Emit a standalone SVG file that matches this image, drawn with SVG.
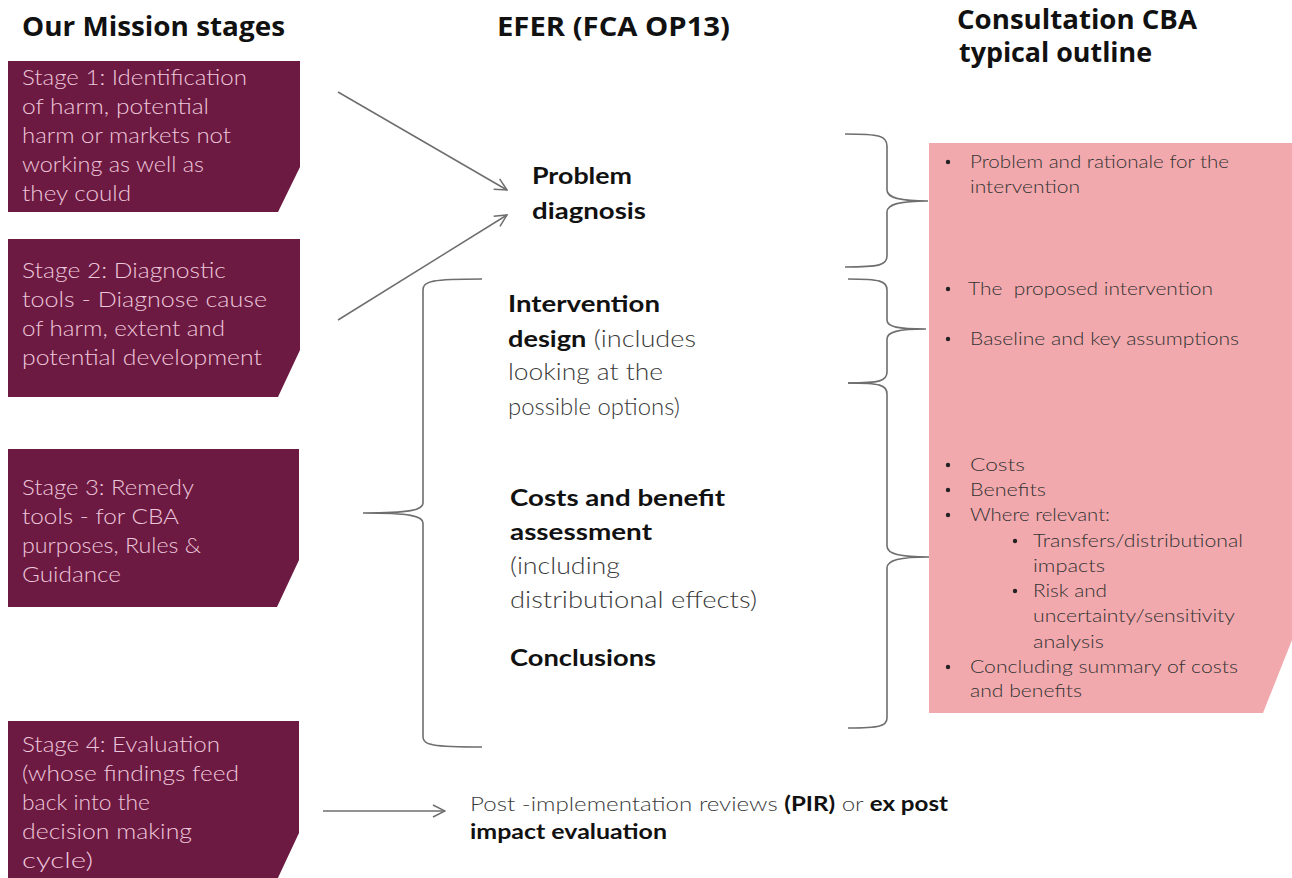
<svg xmlns="http://www.w3.org/2000/svg" width="1292" height="878" viewBox="0 0 1292 878">
<style>
.hdr{font-family:"Open Sans","Liberation Sans",sans-serif;font-weight:700;font-size:26px;fill:#111}
.stage{fill:#6d1a42}
.stxt{font-family:Lato,"Liberation Sans",sans-serif;font-weight:300;font-size:22px;fill:#ecc6da}
.mid{font-family:Lato,"Liberation Sans",sans-serif;font-size:23px;fill:#3a3a3a;font-weight:300}
.b{font-weight:700;fill:#111}
.lst{font-family:Lato,"Liberation Sans",sans-serif;font-weight:300;font-size:18px;fill:#333}
.brace{fill:none;stroke:#6e6e6e;stroke-width:1.6}
.arr{fill:none;stroke:#6e6e6e;stroke-width:1.5}
</style>
<defs>
<marker id="ah" markerWidth="14" markerHeight="14" refX="13" refY="7" orient="auto" markerUnits="userSpaceOnUse">
<path d="M1,1 L13,7 L1,13" fill="none" stroke="#6e6e6e" stroke-width="1.5"/>
</marker>
</defs>
<rect width="1292" height="878" fill="#fff"/>

<g id="headers">
<text class="hdr" x="22" y="36" textLength="263" lengthAdjust="spacingAndGlyphs">Our Mission stages</text>
<text class="hdr" x="497" y="36" textLength="233" lengthAdjust="spacingAndGlyphs">EFER (FCA OP13)</text>
<text class="hdr" x="957" y="29" textLength="240" lengthAdjust="spacingAndGlyphs">Consultation CBA</text>
<text class="hdr" x="959" y="62" textLength="193" lengthAdjust="spacingAndGlyphs">typical outline</text>
</g>

<g id="stage1">
<polygon class="stage" points="8,61 300,61 300,167 278,212 8,212"/>
<text class="stxt" x="22" y="85" textLength="225" lengthAdjust="spacingAndGlyphs">Stage 1: Identification</text>
<text class="stxt" x="22" y="114" textLength="187" lengthAdjust="spacingAndGlyphs">of harm, potential</text>
<text class="stxt" x="22" y="143" textLength="209" lengthAdjust="spacingAndGlyphs">harm or markets not</text>
<text class="stxt" x="22" y="172" textLength="182" lengthAdjust="spacingAndGlyphs">working as well as</text>
<text class="stxt" x="22" y="201" textLength="109" lengthAdjust="spacingAndGlyphs">they could</text>
</g>

<g id="stage2">
<polygon class="stage" points="8,239 300,239 300,350 278,397 8,397"/>
<text class="stxt" x="22" y="278" textLength="204" lengthAdjust="spacingAndGlyphs">Stage 2: Diagnostic</text>
<text class="stxt" x="22" y="307" textLength="245" lengthAdjust="spacingAndGlyphs">tools - Diagnose cause</text>
<text class="stxt" x="22" y="336" textLength="203" lengthAdjust="spacingAndGlyphs">of harm, extent and</text>
<text class="stxt" x="22" y="365" textLength="240" lengthAdjust="spacingAndGlyphs">potential development</text>
</g>

<g id="stage3">
<polygon class="stage" points="8,449 299,449 299,560 277,607 8,607"/>
<text class="stxt" x="22" y="495" textLength="172" lengthAdjust="spacingAndGlyphs">Stage 3: Remedy</text>
<text class="stxt" x="22" y="524" textLength="157" lengthAdjust="spacingAndGlyphs">tools - for CBA</text>
<text class="stxt" x="22" y="553" textLength="179" lengthAdjust="spacingAndGlyphs">purposes, Rules &amp;</text>
<text class="stxt" x="22" y="582" textLength="99" lengthAdjust="spacingAndGlyphs">Guidance</text>
</g>

<g id="stage4">
<polygon class="stage" points="8,721 299,721 299,833 276,882 8,882"/>
<text class="stxt" x="22" y="752" textLength="198" lengthAdjust="spacingAndGlyphs">Stage 4: Evaluation</text>
<text class="stxt" x="22" y="781" textLength="217" lengthAdjust="spacingAndGlyphs">(whose findings feed</text>
<text class="stxt" x="22" y="810" textLength="128" lengthAdjust="spacingAndGlyphs">back into the</text>
<text class="stxt" x="22" y="839" textLength="170" lengthAdjust="spacingAndGlyphs">decision making</text>
<text class="stxt" x="22" y="868" textLength="71" lengthAdjust="spacingAndGlyphs">cycle)</text>
</g>

<g id="efer-problem">
<text class="mid b" x="532" y="184" textLength="100" lengthAdjust="spacingAndGlyphs">Problem</text>
<text class="mid b" x="532" y="219" textLength="114" lengthAdjust="spacingAndGlyphs">diagnosis</text>
</g>

<g id="efer-intervention">
<text class="mid b" x="508" y="312" textLength="152" lengthAdjust="spacingAndGlyphs">Intervention</text>
<text class="mid" x="508" y="347" textLength="188" lengthAdjust="spacingAndGlyphs"><tspan class="b">design</tspan> (includes</text>
<text class="mid" x="508" y="380" textLength="155" lengthAdjust="spacingAndGlyphs">looking at the</text>
<text class="mid" x="508" y="415" textLength="172" lengthAdjust="spacingAndGlyphs">possible options)</text>
</g>

<g id="efer-costs">
<text class="mid b" x="510" y="506" textLength="215" lengthAdjust="spacingAndGlyphs">Costs and benefit</text>
<text class="mid b" x="510" y="540" textLength="142" lengthAdjust="spacingAndGlyphs">assessment</text>
<text class="mid" x="510" y="574" textLength="110" lengthAdjust="spacingAndGlyphs">(including</text>
<text class="mid" x="510" y="608" textLength="247" lengthAdjust="spacingAndGlyphs">distributional effects)</text>
<text class="mid b" x="510" y="666" textLength="146" lengthAdjust="spacingAndGlyphs">Conclusions</text>
</g>

<g id="efer-pir">
<text class="mid" style="font-size:20px" x="470" y="811" textLength="478" lengthAdjust="spacingAndGlyphs">Post -implementation reviews <tspan class="b">(PIR)</tspan> or <tspan class="b">ex post</tspan></text>
<text class="mid b" style="font-size:20px" x="470" y="839" textLength="197" lengthAdjust="spacingAndGlyphs">impact evaluation</text>
</g>

<g id="cba-outline">
<polygon fill="#f2a9ad" points="929,143 1292,143 1292,640 1263,713 929,713"/>
<g fill="#222">
<circle cx="948" cy="162" r="2.2"/>
<circle cx="948" cy="289" r="2.2"/>
<circle cx="948" cy="339" r="2.2"/>
<circle cx="948" cy="465" r="2.2"/>
<circle cx="948" cy="490" r="2.2"/>
<circle cx="948" cy="515" r="2.2"/>
<circle cx="1015" cy="541" r="2.2"/>
<circle cx="1015" cy="591" r="2.2"/>
<circle cx="948" cy="667" r="2.2"/>
</g>
<text class="lst" x="970" y="168" textLength="259" lengthAdjust="spacingAndGlyphs">Problem and rationale for the</text>
<text class="lst" x="970" y="193" textLength="110" lengthAdjust="spacingAndGlyphs">intervention</text>
<text class="lst" x="968" y="295" xml:space="preserve" textLength="245" lengthAdjust="spacingAndGlyphs">The  proposed intervention</text>
<text class="lst" x="970" y="345" textLength="269" lengthAdjust="spacingAndGlyphs">Baseline and key assumptions</text>
<text class="lst" x="970" y="471" textLength="55" lengthAdjust="spacingAndGlyphs">Costs</text>
<text class="lst" x="970" y="496" textLength="76" lengthAdjust="spacingAndGlyphs">Benefits</text>
<text class="lst" x="970" y="521" textLength="140" lengthAdjust="spacingAndGlyphs">Where relevant:</text>
<text class="lst" x="1033" y="547" textLength="210" lengthAdjust="spacingAndGlyphs">Transfers/distributional</text>
<text class="lst" x="1033" y="572" textLength="72" lengthAdjust="spacingAndGlyphs">impacts</text>
<text class="lst" x="1033" y="597" textLength="74" lengthAdjust="spacingAndGlyphs">Risk and</text>
<text class="lst" x="1033" y="622" textLength="202" lengthAdjust="spacingAndGlyphs">uncertainty/sensitivity</text>
<text class="lst" x="1033" y="648" textLength="71" lengthAdjust="spacingAndGlyphs">analysis</text>
<text class="lst" x="970" y="673" textLength="268" lengthAdjust="spacingAndGlyphs">Concluding summary of costs</text>
<text class="lst" x="970" y="697" textLength="112" lengthAdjust="spacingAndGlyphs">and benefits</text>
</g>

<g id="connectors">
<line class="arr" x1="338" y1="92" x2="507" y2="190" marker-end="url(#ah)"/>
<line class="arr" x1="338" y1="320" x2="507" y2="215" marker-end="url(#ah)"/>
<line class="arr" x1="323" y1="811" x2="445" y2="811" marker-end="url(#ah)"/>
<path class="brace" d="M845,134 C880,134 887,136 887,146 L887,190 C887,198 900,201 928,201 C900,201 887,204 887,212 L887,256 C887,265 880,267 845,267"/>
<path class="brace" d="M848,279 C880,279 887,281 887,290 L887,320 C887,327 898,329 926,329 C898,329 887,332 887,339 L887,372 C887,381 880,383 848,383"/>
<path class="brace" d="M848,383 C880,383 887,385 887,394 L887,546 C887,554 900,557 929,557 C900,557 887,560 887,568 L887,718 C887,726 880,728 848,728"/>
<path class="brace" d="M482,279 C432,279 423,281 423,290 L423,503 C423,510 410,513 363,513 C410,513 423,516 423,523 L423,737 C423,745 432,747 482,747"/>
</g>
</svg>
